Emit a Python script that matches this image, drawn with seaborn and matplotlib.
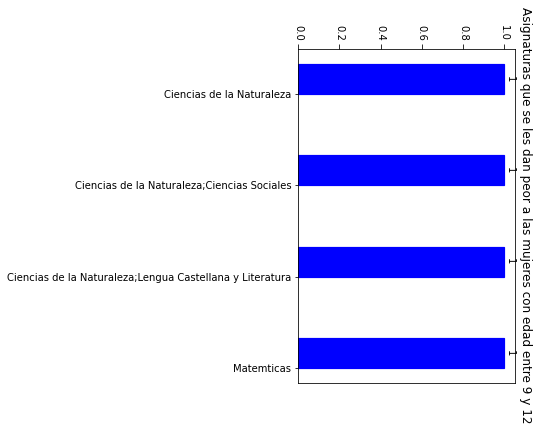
import matplotlib
matplotlib.use("Agg")
import matplotlib.pyplot as plt
import seaborn as sns
import pandas as pd

categories = [
    "Ciencias de la Naturaleza",
    "Ciencias de la Naturaleza;Ciencias Sociales",
    "Ciencias de la Naturaleza;Lengua Castellana y Literatura",
    "Matemticas",
]
counts = [1, 1, 1, 1]
title = "Asignaturas que se les dan peor a las mujeres con edad entre 9 y 12"
xticks = [0.0, 0.2, 0.4, 0.6, 0.8, 1.0]

sns.set_theme(style="white")
plt.rcParams["font.family"] = ["DejaVu Sans"]

df = pd.DataFrame({"asignatura": categories, "n": counts})

W, H = 539, 431
left, right, top, bottom = 298.3, 514.5, 49.3, 383.0
fig = plt.figure(figsize=(W / 72, H / 72), dpi=72)
ax = fig.add_axes([left / W, 1 - bottom / H, (right - left) / W, (bottom - top) / H])

sns.barplot(data=df, y="asignatura", x="n", orient="h", color="#0000ff",
            saturation=1, width=0.33, ax=ax, errorbar=None)
for p in ax.patches:
    p.set_y(p.get_y() - 0.165)
    p.set_edgecolor("#0000ff")
    p.set_linewidth(1.2)

ax.bar_label(ax.containers[0], labels=[str(c) for c in counts],
             rotation=-90, fontsize=10, padding=0.5, color="black")

ax.set_xlim(0, 1.05)
ax.set_ylim(3.165, -0.49)
ax.set_xticks(xticks)
ax.set_xticklabels([f"{t:.1f}" for t in xticks], rotation=-90, fontsize=10)
ax.xaxis.tick_top()
ax.tick_params(axis="x", which="both", top=True, bottom=False, length=5,
               width=0.8, color="black", pad=3.5, labelcolor="black")
ax.tick_params(axis="y", left=True, length=3.5, width=0.8, color="black",
               labelsize=10, pad=3.5, labelcolor="black")
ax.set_xlabel("")
ax.set_ylabel("")
for s in ax.spines.values():
    s.set_visible(True)
    s.set_color("black")
    s.set_linewidth(0.8)

ax.text(1.051, 0.503, title, rotation=-90, ha="center", va="center",
        fontsize=12, transform=ax.transAxes, color="black")

fig.savefig("out.png", dpi=72, facecolor="white")
